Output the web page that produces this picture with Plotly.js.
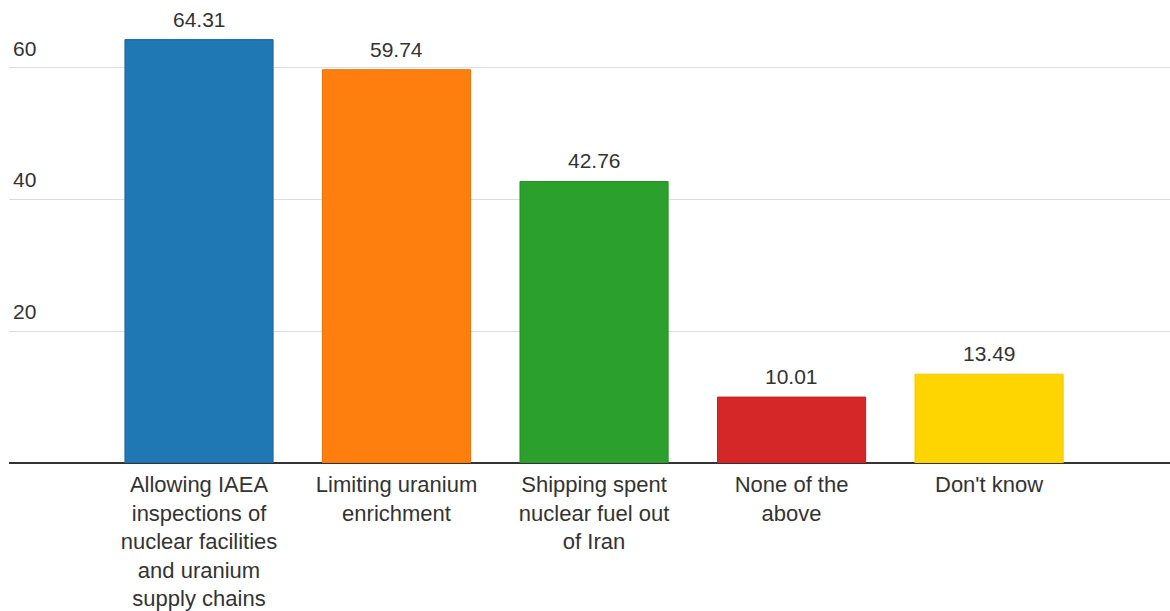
<!DOCTYPE html>
<html>
<head>
<meta charset="utf-8">
<script src="https://cdn.plot.ly/plotly-3.0.1.min.js"></script>
<style>html,body{margin:0;padding:0;background:#fff;}#chart{width:1170px;height:611px;}</style>
</head>
<body>
<div id="chart"></div>
<script>
var categories = [
  "Allowing IAEA<br>inspections of<br>nuclear facilities<br>and uranium<br>supply chains",
  "Limiting uranium<br>enrichment",
  "Shipping spent<br>nuclear fuel out<br>of Iran",
  "None of the<br>above",
  "Don't know"
];
var values = [64.31, 59.74, 42.76, 10.01, 13.49];
var valueLabels = ["64.31", "59.74", "42.76", "10.01", "13.49"];
var barColors = ["#1f77b4", "#ff7f0e", "#2ca02c", "#d62728", "#ffd500"];
var borderColors = ["#1b68a0", "#e8700c", "#27902a", "#c21f26", "#f2c800"];
var yTickVals = [20, 40, 60];
var yTickText = ["20", "40", "60"];

var FONT = "Liberation Sans, Arial, Helvetica, sans-serif";
var TXT = "#333333";

var trace = {
  type: "bar",
  x: categories,
  y: values,
  width: 0.75,
  marker: { color: barColors, line: { color: borderColors, width: 1 } },
  hoverinfo: "none"
};

var annotations = categories.map(function (c, i) {
  return {
    x: c, y: values[i], xref: "x", yref: "y",
    text: valueLabels[i], showarrow: false,
    yanchor: "bottom", yshift: 7,
    font: { family: FONT, size: 21, color: TXT }
  };
});

var layout = {
  width: 1170, height: 611,
  margin: { l: 9, r: 0, t: 20, b: 148 },
  paper_bgcolor: "#ffffff", plot_bgcolor: "#ffffff",
  showlegend: false,
  font: { family: FONT, color: TXT },
  xaxis: {
    type: "category",
    range: [-0.962, 4.916],
    showgrid: false, showline: false, zeroline: false,
    ticks: "",
    tickfont: { family: FONT, size: 22, color: TXT },
    ticklabelstandoff: 6,
    fixedrange: true
  },
  yaxis: {
    range: [0, 67.29],
    tickvals: yTickVals, ticktext: yTickText,
    showgrid: true, gridcolor: "#dddddd", gridwidth: 1,
    zeroline: true, zerolinecolor: "#333333", zerolinewidth: 2,
    showline: false, ticks: "",
    ticklabelposition: "inside top",
    ticklabelshift: -5,
    ticklabelstandoff: 1,
    tickfont: { family: FONT, size: 21, color: TXT },
    fixedrange: true
  },
  annotations: annotations
};

Plotly.newPlot("chart", [trace], layout, { displayModeBar: false, staticPlot: true });
</script>
</body>
</html>
